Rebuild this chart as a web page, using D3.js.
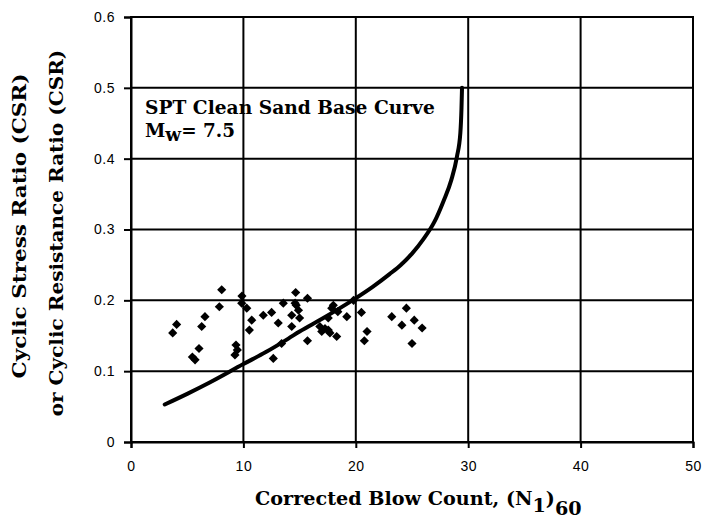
<!DOCTYPE html>
<html>
<head>
<meta charset="utf-8">
<script src="https://cdn.jsdelivr.net/npm/d3@7"></script>
<style>
  html, body { margin: 0; padding: 0; background: #fff; }
  svg { display: block; }
</style>
</head>
<body>
<svg id="chart" width="705" height="525"></svg>
<script>
// Axis ticks
const xTicks = [0, 10, 20, 30, 40, 50];
const yTicks = [0, 0.1, 0.2, 0.3, 0.4, 0.5, 0.6];

// Field case histories: corrected blow count vs cyclic stress ratio
const caseN = [8.07, 7.86, 4.06, 3.71, 6.58, 6.29, 6.05, 5.46, 5.7,
  9.87, 9.85, 10.3, 10.74, 10.53, 9.34, 9.46, 9.25,
  11.77, 12.51, 13.1, 13.55, 14.3, 14.3, 12.66, 14.65, 13.4, 14.7,
  15.7, 14.9, 15.0, 15.7, 17.86, 17.55, 17.26, 17.7, 18.3, 19.2, 19.8,
  20.5, 21.0, 20.76, 23.2, 24.5, 24.1, 25.2, 25.9, 25.0, 16.8,
  18.0, 18.4, 17.55, 16.97, 14.6];
const caseCSR = [0.215, 0.191, 0.166, 0.154, 0.177, 0.163, 0.132, 0.120, 0.116,
  0.206, 0.196, 0.189, 0.172, 0.158, 0.137, 0.130, 0.123,
  0.179, 0.183, 0.168, 0.196, 0.163, 0.179, 0.118, 0.211, 0.139, 0.193,
  0.203, 0.186, 0.175, 0.143, 0.189, 0.175, 0.160, 0.154, 0.149, 0.177, 0.200,
  0.183, 0.156, 0.143, 0.177, 0.189, 0.165, 0.172, 0.161, 0.139, 0.163,
  0.193, 0.184, 0.158, 0.156, 0.196];

// SPT clean sand base curve (Mw = 7.5)
const curveN = [3.0, 5, 7, 10, 12, 14, 15, 17, 19.8, 21.5, 23, 24, 25, 26, 27, 27.8, 28.5, 29.0, 29.3, 29.4, 29.45];
const curveCRR = [0.053, 0.068, 0.084, 0.110, 0.127, 0.146, 0.156, 0.174, 0.201, 0.219, 0.237, 0.250, 0.266, 0.286, 0.311, 0.340, 0.370, 0.403, 0.436, 0.470, 0.500];

const svg = d3.select("#chart");
const plotLeft = 131, plotRight = 693, plotTop = 17, plotBottom = 442;

const x = d3.scaleLinear().domain([0, 50]).range([plotLeft, plotRight]);
const y = d3.scaleLinear().domain([0, 0.6]).range([plotBottom, plotTop]);

const serif = "'DejaVu Serif', 'Liberation Serif', serif";
const sans = "'Liberation Sans', Arial, sans-serif";

// Place a text label inside a group and squeeze it horizontally to a given width
function fittedText(parent, transform, size, width, anchor) {
  const g = parent.append("g").attr("transform", transform);
  const inner = g.append("g");
  const t = inner.append("text").attr("font-size", size)
    .attr("font-family", serif).attr("font-weight", "bold").attr("fill", "#000")
    .attr("text-anchor", anchor || "start");
  t.fit = () => {
    const w = t.node().getComputedTextLength();
    if (w > 0) inner.attr("transform", `scale(${(width / w).toFixed(4)},1)`);
    return t;
  };
  return t;
}

// Grid lines
const grid = svg.append("g").attr("stroke", "#000").attr("stroke-width", 2);
grid.selectAll("line.v").data(xTicks.slice(1, -1)).join("line").attr("class", "v")
  .attr("x1", d => x(d)).attr("x2", d => x(d)).attr("y1", plotTop).attr("y2", plotBottom);
grid.selectAll("line.h").data(yTicks.slice(1, -1)).join("line").attr("class", "h")
  .attr("x1", plotLeft).attr("x2", plotRight).attr("y1", d => y(d)).attr("y2", d => y(d));

// Plot frame
svg.append("rect").attr("x", plotLeft).attr("y", plotTop)
  .attr("width", plotRight - plotLeft).attr("height", plotBottom - plotTop)
  .attr("fill", "none").attr("stroke", "#000").attr("stroke-width", 2);

// Axes
const xAxis = svg.append("g").attr("transform", `translate(0,${plotBottom})`)
  .call(d3.axisBottom(x).tickValues(xTicks).tickFormat(d3.format("d")).tickSize(6).tickPadding(13));
const yAxis = svg.append("g").attr("transform", `translate(${plotLeft},0)`)
  .call(d3.axisLeft(y).tickValues(yTicks).tickFormat(d => d === 0 ? "0" : d3.format(".1f")(d)).tickSize(7).tickPadding(9));
[xAxis, yAxis].forEach(a => {
  a.select(".domain").attr("stroke", "#000").attr("stroke-width", 2);
  a.selectAll(".tick line").attr("stroke", "#000").attr("stroke-width", 2);
  a.selectAll(".tick text").attr("font-family", sans).attr("font-size", 14)
    .attr("letter-spacing", 0.5).attr("fill", "#000");
});

// Base curve
const line = d3.line().x((d, i) => x(curveN[i])).y(d => y(d)).curve(d3.curveMonotoneX);
svg.append("path").datum(curveCRR).attr("d", line)
  .attr("fill", "none").attr("stroke", "#000").attr("stroke-width", 4).attr("stroke-linecap", "round");

// Case-history markers: square diamonds
const squareDiamond = {
  draw(ctx, size) {
    const r = Math.sqrt(size / 2);
    ctx.moveTo(0, -r); ctx.lineTo(r, 0); ctx.lineTo(0, r); ctx.lineTo(-r, 0); ctx.closePath();
  }
};
const diamond = d3.symbol().type(squareDiamond).size(42);
svg.append("g").selectAll("path").data(caseN).join("path")
  .attr("d", diamond)
  .attr("transform", (d, i) => `translate(${x(d)},${y(caseCSR[i])})`)
  .attr("fill", "#000");

// Curve annotation
fittedText(svg, "translate(145,114)", 18, 290).text("SPT Clean Sand Base Curve").fit();
const mw = fittedText(svg, "translate(145,137)", 18, 90);
mw.append("tspan").text("M");
mw.append("tspan").attr("dy", 4).text("w");
mw.append("tspan").attr("dy", -4).text("= 7.5");
mw.fit();

// Axis titles
const xt = fittedText(svg, "translate(255,505)", 19, 327);
xt.append("tspan").text("Corrected Blow Count, (N");
xt.append("tspan").attr("dy", 7).text("1");
xt.append("tspan").attr("dy", -7).text(")");
xt.append("tspan").attr("dy", 10).text("60");
xt.fit();

fittedText(svg, "translate(26,226) rotate(-90)", 19, 305, "middle")
  .text("Cyclic Stress Ratio (CSR)").fit();
fittedText(svg, "translate(63,233) rotate(-90)", 19, 367, "middle")
  .text("or Cyclic Resistance Ratio (CSR)").fit();
</script>
</body>
</html>
